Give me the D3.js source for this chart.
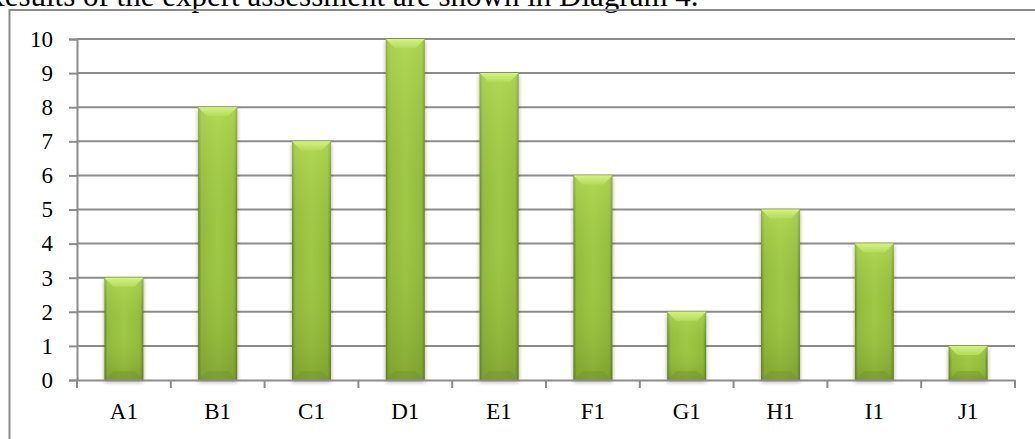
<!DOCTYPE html>
<html>
<head>
<meta charset="utf-8">
<script src="https://cdn.jsdelivr.net/npm/d3@7"></script>
<style>
  body { margin: 0; background: #fff; overflow: hidden; }
  svg { display: block; }
  svg text { font-family: "Liberation Serif", "Times New Roman", serif; }
</style>
</head>
<body>
<script>
// chart data
const categories = ['A1', 'B1', 'C1', 'D1', 'E1', 'F1', 'G1', 'H1', 'I1', 'J1'];
const scores = [3, 8, 7, 10, 9, 6, 2, 5, 4, 1];
const yTicks = [0, 1, 2, 3, 4, 5, 6, 7, 8, 9, 10];
const captionText = 'Results of the expert assessment are shown in Diagram 4.';

const width = 1035;
const height = 439;
const margin = { top: 39, right: 20, bottom: 59, left: 77 };

const svg = d3.select('body')
  .append('svg')
  .attr('width', width)
  .attr('height', height);

const defs = svg.append('defs');

// horizontal shading: darker edges
const hGrad = defs.append('linearGradient')
  .attr('id', 'barH')
  .attr('x1', 0).attr('x2', 1).attr('y1', 0).attr('y2', 0);
hGrad.append('stop').attr('offset', '0%').attr('stop-color', '#5f7f1c');
hGrad.append('stop').attr('offset', '8%').attr('stop-color', '#92bb3c');
hGrad.append('stop').attr('offset', '50%').attr('stop-color', '#a0c846');
hGrad.append('stop').attr('offset', '92%').attr('stop-color', '#92bb3c');
hGrad.append('stop').attr('offset', '100%').attr('stop-color', '#5f7f1c');

// vertical tint: lighter top, olive bottom
const vGrad = defs.append('linearGradient')
  .attr('id', 'barV')
  .attr('x1', 0).attr('x2', 0).attr('y1', 0).attr('y2', 1);
vGrad.append('stop').attr('offset', '0%').attr('stop-color', '#c4e866').attr('stop-opacity', 0.5);
vGrad.append('stop').attr('offset', '50%').attr('stop-color', '#9cc443').attr('stop-opacity', 0);
vGrad.append('stop').attr('offset', '100%').attr('stop-color', '#5e7a1a').attr('stop-opacity', 0.4);

// top bevel gradient
const tGrad = defs.append('linearGradient')
  .attr('id', 'bevelTop')
  .attr('x1', 0).attr('x2', 0).attr('y1', 0).attr('y2', 1);
tGrad.append('stop').attr('offset', '0%').attr('stop-color', '#d4f284');
tGrad.append('stop').attr('offset', '100%').attr('stop-color', '#b3db5a');

const shadow = defs.append('filter')
  .attr('id', 'shadow')
  .attr('x', '-30%').attr('y', '-10%').attr('width', '160%').attr('height', '130%');
shadow.append('feGaussianBlur').attr('in', 'SourceAlpha').attr('stdDeviation', 2);
shadow.append('feOffset').attr('dx', 0).attr('dy', 2).attr('result', 'blur');
shadow.append('feComponentTransfer').append('feFuncA').attr('type', 'linear').attr('slope', 0.35);
const merge = shadow.append('feMerge');
merge.append('feMergeNode');
merge.append('feMergeNode').attr('in', 'SourceGraphic');

// caption above, cut by the top of the picture like in the source page
svg.append('text')
  .attr('x', -16)
  .attr('y', 6)
  .attr('font-size', 31)
  .attr('fill', '#000')
  .text(captionText);

// chart frame
svg.append('rect')
  .attr('x', 9.5)
  .attr('y', 10)
  .attr('width', 1100)
  .attr('height', 500)
  .attr('fill', 'none')
  .attr('stroke', '#8c8c8c')
  .attr('stroke-width', 2);

const x = d3.scaleBand()
  .domain(categories)
  .range([margin.left, width - margin.right])
  .paddingInner(0.585)
  .paddingOuter(0.2925);

const y = d3.scaleLinear()
  .domain([0, 10])
  .range([height - margin.bottom, margin.top]);

// grid
svg.append('g')
  .selectAll('line')
  .data(yTicks.filter(d => d > 0))
  .join('line')
  .attr('x1', margin.left)
  .attr('x2', width - margin.right)
  .attr('y1', d => y(d))
  .attr('y2', d => y(d))
  .attr('stroke', '#8c8c8c')
  .attr('stroke-width', 2);

// y axis
const yAxis = svg.append('g')
  .attr('transform', `translate(${margin.left},0)`)
  .call(d3.axisLeft(y).tickValues(yTicks).tickFormat(d3.format('d')).tickSize(8).tickPadding(16));
yAxis.attr('font-family', null);
yAxis.select('.domain').attr('stroke', '#8c8c8c').attr('stroke-width', 2);
yAxis.selectAll('.tick line').attr('stroke', '#8c8c8c').attr('stroke-width', 2);
yAxis.selectAll('text')
  .attr('font-size', 23)
  .style('font-family', '"Liberation Serif", serif')
  .attr('fill', '#000');

// bars
const bars = svg.append('g')
  .selectAll('g')
  .data(categories.map((c, i) => ({ cat: c, val: scores[i] })))
  .join('g')
  .attr('filter', 'url(#shadow)');

bars.append('rect')
  .attr('x', d => x(d.cat))
  .attr('y', d => y(d.val))
  .attr('width', x.bandwidth())
  .attr('height', d => y(0) - y(d.val))
  .attr('fill', 'url(#barH)');

bars.append('rect')
  .attr('x', d => x(d.cat))
  .attr('y', d => y(d.val))
  .attr('width', x.bandwidth())
  .attr('height', d => y(0) - y(d.val))
  .attr('fill', 'url(#barV)');

// top bevel
bars.append('path')
  .attr('d', d => {
    const x0 = x(d.cat), x1 = x0 + x.bandwidth(), t = y(d.val), b = 9;
    return `M${x0},${t}L${x1},${t}L${x1 - b},${t + b}L${x0 + b},${t + b}Z`;
  })
  .attr('fill', 'url(#bevelTop)');

// bottom bevel (darker)
bars.append('path')
  .attr('d', d => {
    const x0 = x(d.cat), x1 = x0 + x.bandwidth(), bt = y(0), b = 9;
    return `M${x0},${bt}L${x1},${bt}L${x1 - b},${bt - b}L${x0 + b},${bt - b}Z`;
  })
  .attr('fill', '#6f8f26')
  .attr('opacity', 0.35);

// x axis
const xAxis = svg.append('g')
  .attr('transform', `translate(0,${y(0)})`)
  .call(d3.axisBottom(x).tickSize(0).tickPadding(23));
xAxis.attr('font-family', null);
xAxis.select('.domain').attr('stroke', '#8c8c8c').attr('stroke-width', 2);
xAxis.selectAll('text')
  .attr('font-size', 23)
  .style('font-family', '"Liberation Serif", serif')
  .attr('fill', '#000');

// category boundary ticks
const step = x.step();
svg.append('g')
  .selectAll('line')
  .data(d3.range(categories.length + 1))
  .join('line')
  .attr('x1', i => margin.left + i * step)
  .attr('x2', i => margin.left + i * step)
  .attr('y1', y(0))
  .attr('y2', y(0) + 8)
  .attr('stroke', '#8c8c8c')
  .attr('stroke-width', 2);
</script>
</body>
</html>
